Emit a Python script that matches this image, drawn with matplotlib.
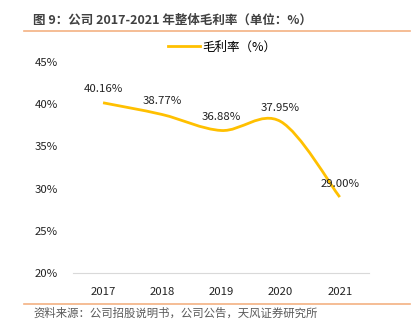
import matplotlib
matplotlib.use("Agg")
import matplotlib.pyplot as plt
from matplotlib.path import Path
from matplotlib.patches import PathPatch
from matplotlib.lines import Line2D
import numpy as np

plt.rcParams['font.family'] = ['Noto Sans CJK SC', 'DejaVu Sans']

years = ["2017", "2018", "2019", "2020", "2021"]
margin = [40.16, 38.77, 36.88, 37.95, 29.00]
labels = ["40.16%", "38.77%", "36.88%", "37.95%", "29.00%"]
yticks = [20, 25, 30, 35, 40, 45]

line_color = "#FFC000"

fig = plt.figure(figsize=(4.15, 3.24), dpi=100)
ax = fig.add_axes([0.177, 0.157, 0.713, 0.652])

x = np.arange(len(years))
y = np.array(margin)

# smoothed line like Excel (Catmull-Rom as cubic bezier segments)
verts = [(x[0], y[0])]
codes = [Path.MOVETO]
n = len(x)
for i in range(n - 1):
    p0 = (x[max(i - 1, 0)], y[max(i - 1, 0)])
    p1 = (x[i], y[i])
    p2 = (x[i + 1], y[i + 1])
    p3 = (x[min(i + 2, n - 1)], y[min(i + 2, n - 1)])
    c1 = (p1[0] + (p2[0] - p0[0]) / 6, p1[1] + (p2[1] - p0[1]) / 6)
    c2 = (p2[0] - (p3[0] - p1[0]) / 6, p2[1] - (p3[1] - p1[1]) / 6)
    verts += [c1, c2, p2]
    codes += [Path.CURVE4] * 3
ax.add_patch(PathPatch(Path(verts, codes), facecolor="none", edgecolor=line_color, lw=2))

for xi, yi, lab in zip(x, y, labels):
    ax.text(xi, yi + 1.0, lab, ha="center", va="bottom", fontsize=8.2, color="#222222")

ax.set_xlim(-0.5, n - 0.5)
ax.set_ylim(20, 45)
ax.set_yticks(yticks)
ax.set_yticklabels([f"{v}%" for v in yticks])
ax.set_xticks(x)
ax.set_xticklabels(years)
ax.tick_params(length=0, labelsize=8.2, colors="#222222")
ax.tick_params(axis="y", pad=11)
ax.tick_params(axis="x", pad=10)
for s in ["top", "right", "left"]:
    ax.spines[s].set_visible(False)
ax.spines["bottom"].set_color("#d9d9d9")

leg_handle = Line2D([0], [0], color=line_color, lw=2)
fig.legend([leg_handle], ["毛利率（%）"], loc="center", bbox_to_anchor=(0.535, 0.855),
           frameon=False, fontsize=9, handlelength=2.6, handletextpad=0.2)

fig.text(0.08, 0.938, "图 9：公司 2017-2021 年整体毛利率（单位：%）", fontsize=9,
         fontweight="bold", color="#404040", va="center")
fig.add_artist(Line2D([0.058, 0.988], [0.905, 0.905], color="#F4B183", lw=1.2))
fig.add_artist(Line2D([0.058, 0.988], [0.062, 0.062], color="#F4B183", lw=1.2))
fig.text(0.08, 0.033, "资料来源：公司招股说明书，公司公告，天风证券研究所", fontsize=8.2,
         color="#595959", va="center")

fig.savefig("out.png", dpi=100)
